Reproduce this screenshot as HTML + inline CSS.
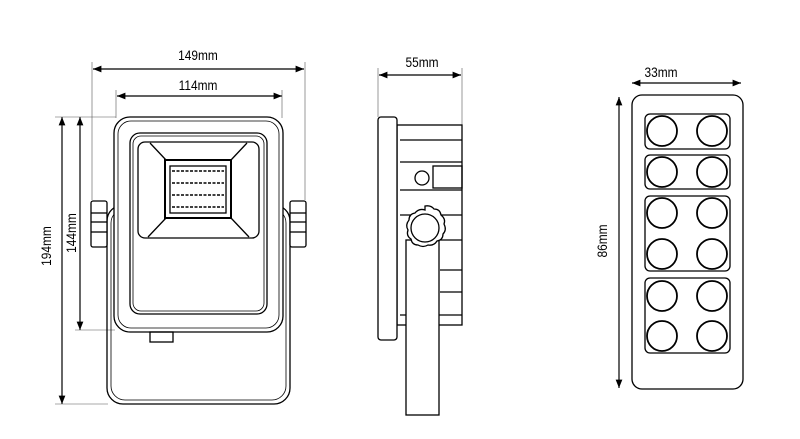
<!DOCTYPE html>
<html><head><meta charset="utf-8"><style>html,body{margin:0;padding:0;background:#fff}svg{display:block}</style></head>
<body>
<svg width="800" height="439" viewBox="0 0 800 439" xmlns="http://www.w3.org/2000/svg" font-family="Liberation Sans, sans-serif">
<defs><marker id="a" viewBox="0 0 10 10" refX="10" refY="5" markerWidth="7" markerHeight="7" orient="auto-start-reverse"><path d="M0,1 L10,5 L0,9 z" fill="#000"/></marker></defs>
<g stroke="#000" fill="none" stroke-width="1.3">
<g stroke-width="1.2">
<line x1="93" y1="69" x2="304" y2="69" marker-start="url(#a)" marker-end="url(#a)"/>
<line x1="117" y1="96" x2="282" y2="96" marker-start="url(#a)" marker-end="url(#a)"/>
<line x1="62" y1="117" x2="62" y2="404" marker-start="url(#a)" marker-end="url(#a)"/>
<line x1="80" y1="117" x2="80" y2="330" marker-start="url(#a)" marker-end="url(#a)"/>
<line x1="379" y1="75" x2="461" y2="75" marker-start="url(#a)" marker-end="url(#a)"/>
<line x1="632" y1="83" x2="741" y2="83" marker-start="url(#a)" marker-end="url(#a)"/>
<line x1="619" y1="97" x2="619" y2="388" marker-start="url(#a)" marker-end="url(#a)"/>
</g>
<g stroke-width="0.6" stroke="#555">
<line x1="92" y1="62" x2="92" y2="200"/><line x1="305" y1="62" x2="305" y2="200"/>
<line x1="116" y1="90" x2="116" y2="118"/><line x1="282" y1="90" x2="282" y2="118"/>
<line x1="55" y1="117" x2="116" y2="117"/><line x1="55" y1="404" x2="108" y2="404"/>
<line x1="75" y1="330" x2="115" y2="330"/>
<line x1="378" y1="68" x2="378" y2="117"/><line x1="462" y1="68" x2="462" y2="130"/>
</g>
<rect x="107" y="205" width="183" height="199" rx="16"/>
<rect x="111" y="209" width="175" height="191" rx="14" stroke-width="0.8"/>
<rect x="91" y="201" width="16" height="46" rx="2" fill="#fff"/>
<line x1="91" y1="213" x2="107" y2="213"/><line x1="91" y1="222" x2="107" y2="222"/><line x1="91" y1="232" x2="107" y2="232"/>
<rect x="290" y="201" width="16" height="46" rx="2" fill="#fff"/>
<line x1="290" y1="213" x2="306" y2="213"/><line x1="290" y1="222" x2="306" y2="222"/><line x1="290" y1="232" x2="306" y2="232"/>
<rect x="114" y="117" width="169" height="215" rx="16" fill="#fff"/>
<rect x="118" y="121" width="161" height="207" rx="13" stroke-width="0.8"/>
<rect x="130" y="133" width="137" height="181" rx="10"/>
<rect x="133" y="136" width="131" height="175" rx="8" stroke-width="0.8"/>
<rect x="138" y="142" width="121" height="96" rx="7"/>
<line x1="150" y1="143" x2="166" y2="160"/><line x1="247" y1="143" x2="231" y2="160"/>
<line x1="148" y1="237" x2="166" y2="218"/><line x1="249" y1="237" x2="231" y2="218"/>
<rect x="165" y="160" width="66" height="58" stroke-width="2"/>
<rect x="170" y="166" width="56" height="47"/>
<g stroke-width="1.5"><line x1="172" y1="171" x2="224" y2="171" stroke-dasharray="3 1.5"/><line x1="172" y1="183" x2="224" y2="183" stroke-dasharray="3 1.5"/><line x1="172" y1="195" x2="224" y2="195" stroke-dasharray="3 1.5"/><line x1="172" y1="207" x2="224" y2="207" stroke-dasharray="3 1.5"/></g>
<rect x="150" y="332" width="23" height="10"/>
<rect x="397" y="125" width="65" height="200"/>
<line x1="400" y1="140" x2="462" y2="140"/><line x1="400" y1="162" x2="462" y2="162"/><line x1="400" y1="190" x2="462" y2="190"/>
<line x1="400" y1="215" x2="462" y2="215"/><line x1="440" y1="240" x2="462" y2="240"/><line x1="440" y1="270" x2="462" y2="270"/>
<line x1="440" y1="292" x2="462" y2="292"/><line x1="400" y1="315" x2="462" y2="315"/>
<rect x="433" y="166" width="29" height="22"/>
<circle cx="422" cy="178" r="7"/>
<rect x="378" y="117" width="19" height="223" rx="3" fill="#fff"/>
<rect x="406" y="240" width="33" height="175" fill="#fff"/>
<path d="M425,206 q6,-1 9,3 q6,0 7,6 q5,4 3,9 q3,6 -1,10 q0,6 -6,7 q-3,5 -9,4 q-5,3 -10,0 q-6,0 -7,-6 q-5,-3 -3,-9 q-3,-5 1,-10 q0,-6 6,-7 q4,-5 10,-3 z" fill="#fff"/>
<circle cx="425" cy="228" r="14"/>
<rect x="632" y="95" width="111" height="294" rx="10"/>
<rect x="645" y="114" width="85" height="35" rx="5"/>
<rect x="645" y="155" width="85" height="34" rx="5"/>
<rect x="645" y="196" width="85" height="75" rx="5"/>
<rect x="645" y="278" width="85" height="75" rx="5"/>
<g stroke-width="1.8">
<circle cx="662" cy="131" r="15"/><circle cx="712" cy="131" r="15"/>
<circle cx="662" cy="172" r="15"/><circle cx="712" cy="172" r="15"/>
<circle cx="662" cy="213" r="15"/><circle cx="712" cy="213" r="15"/>
<circle cx="662" cy="254" r="15"/><circle cx="712" cy="254" r="15"/>
<circle cx="662" cy="296" r="15"/><circle cx="712" cy="296" r="15"/>
<circle cx="662" cy="336" r="15"/><circle cx="712" cy="336" r="15"/>
</g>
</g>
<g font-size="14" fill="#000" text-anchor="middle">
<text transform="translate(198,60) scale(0.85,1)">149mm</text>
<text transform="translate(198,90) scale(0.85,1)">114mm</text>
<text transform="translate(422,67) scale(0.85,1)">55mm</text>
<text transform="translate(661,77) scale(0.85,1)">33mm</text>
<text transform="translate(51,246) rotate(-90) scale(0.85,1)">194mm</text>
<text transform="translate(76,233) rotate(-90) scale(0.85,1)">144mm</text>
<text transform="translate(607,241) rotate(-90) scale(0.85,1)">86mm</text>
</g>
</svg>
</body></html>
